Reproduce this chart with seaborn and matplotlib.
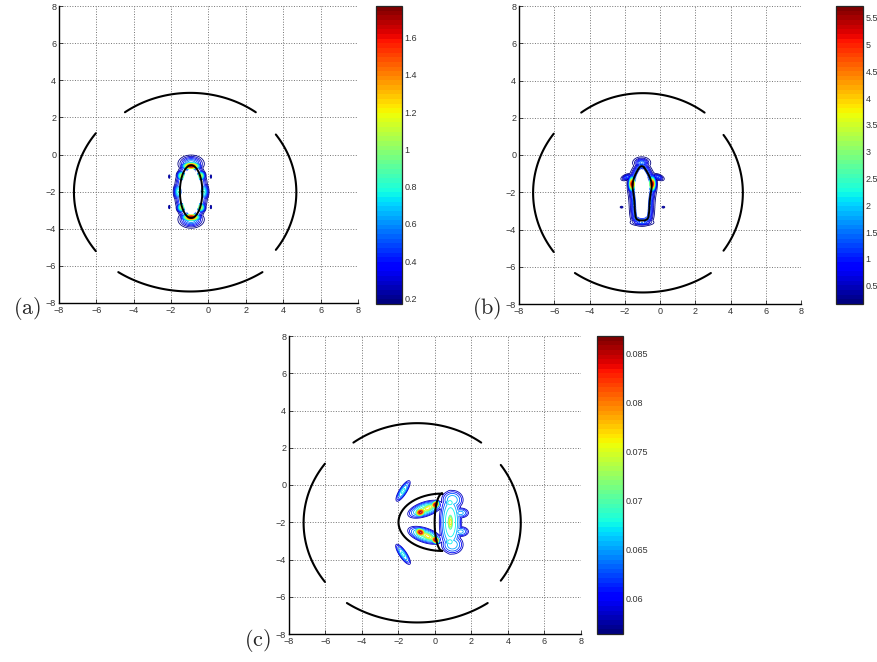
import matplotlib
matplotlib.use("Agg")
import matplotlib.pyplot as plt
import seaborn as sns
import numpy as np
from matplotlib.path import Path
from matplotlib.ticker import FuncFormatter

sns.set_style("ticks")
plt.rcParams['font.family'] = ['Liberation Sans', 'DejaVu Sans']
plt.rcParams['mathtext.fontset'] = 'cm'

# outer arcs (same in every panel): centre, radii, start/end angle (deg)
arc_cx = [-0.97, -1.20, -0.97, -1.20]
arc_cy = [-2.03, -2.03, -2.03, -2.03]
arc_rx = [5.90, 6.00, 6.50, 5.90]
arc_ry = [5.35, 5.35, 5.35, 5.35]
arc_t0 = [53.6, 143.6, 233.6, -35.5]
arc_t1 = [126.4, 216.4, 306.4, 35.5]

# panel (a): inner ellipse, halo around it and field blobs
a_obj_cx, a_obj_cy, a_obj_rx, a_obj_ry = -0.93, -2.0, 0.60, 1.42
a_ring_amp, a_ring_w = 0.50, 0.20
a_blob_x = [-0.93, -0.93, -0.93, -0.93, -1.62, -0.24, -1.44, -0.42, -1.44, -0.42, -2.10, 0.13, -2.10, 0.13]
a_blob_y = [-0.62, -3.38, -0.50, -3.50, -2.0, -2.0, -1.15, -1.15, -2.85, -2.85, -1.19, -1.19, -2.83, -2.83]
a_blob_amp = [1.75, 1.75, 0.70, 0.70, 0.85, 0.85, 1.15, 1.15, 1.15, 1.15, 0.30, 0.30, 0.30, 0.30]
a_blob_sx = [0.30, 0.30, 0.42, 0.42, 0.15, 0.15, 0.15, 0.15, 0.15, 0.15, 0.035, 0.035, 0.035, 0.035]
a_blob_sy = [0.13, 0.13, 0.28, 0.28, 0.30, 0.30, 0.17, 0.17, 0.17, 0.17, 0.09, 0.09, 0.09, 0.09]
a_blob_rot = [0, 0, 0, 0, 0, 0, 0, 0, 0, 0, 0, 0, 0, 0]
a_clim = (0.17, 1.77)
a_ticks = [0.2, 0.4, 0.6, 0.8, 1.0, 1.2, 1.4, 1.6]

# panel (b): shield-shaped body outline, halo and field blobs
b_obj_x = [-1.04, -0.72, -0.42, -0.58, -0.62, -0.72, -1.32, -1.42, -1.46, -1.60, -1.34]
b_obj_y = [-0.50, -0.90, -1.55, -2.30, -3.20, -3.52, -3.52, -3.20, -2.30, -1.55, -0.90]
b_ring_amp, b_ring_w = 1.4, 0.15
b_blob_x = [-1.58, -0.44, -1.04, -1.89, -0.09, -1.48, -0.56, -1.02, -2.18, 0.19]
b_blob_y = [-1.55, -1.55, -0.42, -1.19, -1.19, -2.50, -2.50, -3.62, -2.80, -2.80]
b_blob_amp = [5.6, 5.6, 1.6, 1.3, 1.3, 1.6, 1.6, 1.5, 0.6, 0.6]
b_blob_sx = [0.11, 0.11, 0.24, 0.17, 0.17, 0.10, 0.10, 0.32, 0.05, 0.05]
b_blob_sy = [0.24, 0.24, 0.15, 0.08, 0.08, 0.45, 0.45, 0.09, 0.03, 0.03]
b_blob_rot = [0, 0, 0, 20, -20, 0, 0, 0, 0, 0]
b_clim = (0.16, 5.72)
b_ticks = [0.5, 1, 1.5, 2, 2.5, 3, 3.5, 4, 4.5, 5, 5.5]

# panel (c): crescent body (outer / inner half ellipses) and field blobs
c_obj_cx, c_obj_cy = 0.40, -2.0
c_outer_rx, c_outer_ry = 2.40, 1.54
c_inner_rx, c_inner_ry = 0.42, 1.54
c_blob_x = [-1.75, -1.75, -0.55, -0.80, 0.02, -0.40, -0.55, -0.80, 0.02, -0.40,
            0.85, 0.84, 0.82, 0.82, 1.40, 1.40, 0.95, 0.95]
c_blob_y = [-0.32, -3.72, -1.30, -1.46, -1.05, -1.25, -2.70, -2.54, -2.95, -2.75,
            -2.00, -2.00, -0.95, -3.05, -1.50, -2.50, -0.80, -3.20]
c_blob_amp = [0.068, 0.068, 0.071, 0.087, 0.087, 0.078, 0.071, 0.087, 0.087, 0.078,
              0.070, 0.078, 0.069, 0.069, 0.066, 0.066, 0.067, 0.067]
c_blob_sx = [1.15, 1.15, 1.55, 0.36, 0.30, 0.75, 1.55, 0.36, 0.30, 0.75,
             1.00, 0.24, 0.55, 0.55, 0.85, 0.85, 1.10, 1.10]
c_blob_sy = [0.35, 0.35, 0.62, 0.25, 0.22, 0.32, 0.62, 0.25, 0.22, 0.32,
             2.80, 0.80, 0.50, 0.50, 0.52, 0.52, 0.95, 0.95]
c_blob_rot = [57, -55, 18, 20, 35, 25, -18, -20, -35, -25,
              0, 0, 0, 0, 0, 0, 0, 0]
c_clim = (0.0564, 0.0868)
c_ticks = [0.06, 0.065, 0.07, 0.075, 0.08, 0.085]

cmap = matplotlib.colormaps['jet'].resampled(64)
gx, gy = np.meshgrid(np.linspace(-4, 3, 421), np.linspace(-5.5, 1.5, 421))


def field(bx, by, amp, sx, sy, rot):
    z = np.zeros_like(gx)
    for cx, cy, a, s1, s2, r in zip(bx, by, amp, sx, sy, rot):
        t = np.deg2rad(r)
        dx, dy = gx - cx, gy - cy
        u = dx * np.cos(t) + dy * np.sin(t)
        v = -dx * np.sin(t) + dy * np.cos(t)
        z = np.maximum(z, a * np.exp(-0.5 * ((u / s1) ** 2 + (v / s2) ** 2)))
    return z


def halo(px, py, amp, width):
    d = np.full(gx.shape, np.inf)
    for x0, y0 in zip(px, py):
        d = np.minimum(d, np.hypot(gx - x0, gy - y0))
    return amp * np.exp(-0.5 * (d / width) ** 2)


def smooth_closed(xs, ys, n=3):
    p = np.column_stack([xs, ys])
    for _ in range(n):
        q = np.roll(p, -1, axis=0)
        p = np.stack([0.75 * p + 0.25 * q, 0.25 * p + 0.75 * q], axis=1).reshape(-1, 2)
    p = np.vstack([p, p[:1]])
    return p[:, 0], p[:, 1]


def style_axes(ax):
    ax.set_xlim(-8, 8)
    ax.set_ylim(-8, 8)
    ax.set_xticks(np.arange(-8, 9, 2))
    ax.set_yticks(np.arange(-8, 9, 2))
    ax.grid(True, linestyle=':', color='0.45', linewidth=0.7)
    ax.set_axisbelow(True)
    for s in ['top', 'right']:
        ax.spines[s].set_visible(False)
    for s in ['left', 'bottom']:
        ax.spines[s].set_linewidth(1.0)
        ax.spines[s].set_color('black')
    ax.tick_params(direction='in', length=3, width=0.6, labelsize=6.5,
                   labelcolor='#333333', pad=2)
    ax.set_xlabel('')
    ax.set_ylabel('')


def draw_arcs(ax):
    for cx, cy, rx, ry, t0, t1 in zip(arc_cx, arc_cy, arc_rx, arc_ry, arc_t0, arc_t1):
        t = np.deg2rad(np.linspace(t0, t1, 120))
        sns.lineplot(x=cx + rx * np.cos(t), y=cy + ry * np.sin(t), sort=False,
                     estimator=None, color='black', linewidth=1.5, ax=ax)


def draw_colorbar(fig, rect, clim, ticks):
    cax = fig.add_axes(rect)
    sm = plt.cm.ScalarMappable(norm=plt.Normalize(*clim), cmap=cmap)
    cb = fig.colorbar(sm, cax=cax)
    cb.set_ticks(ticks)
    cb.ax.yaxis.set_major_formatter(FuncFormatter(lambda v, p: '%g' % v))
    cb.outline.set_linewidth(0.9)
    cax.tick_params(direction='in', length=2.5, width=0.6, labelsize=6.5,
                    labelcolor='#333333', left=True, right=True, pad=2)
    return cb


fig = plt.figure(figsize=(8.78, 6.62), dpi=100)

# ---- panel (a)
ax_a = fig.add_axes([59 / 878, 1 - 303 / 662, 299 / 878, 297 / 662])
t = np.linspace(0, 2 * np.pi, 200)
ea_x = a_obj_cx + a_obj_rx * np.cos(t)
ea_y = a_obj_cy + a_obj_ry * np.sin(t)
za = np.maximum(field(a_blob_x, a_blob_y, a_blob_amp, a_blob_sx, a_blob_sy, a_blob_rot),
                halo(ea_x, ea_y, a_ring_amp, a_ring_w))
inside = ((gx - a_obj_cx) / (a_obj_rx * 0.85)) ** 2 + ((gy - a_obj_cy) / (a_obj_ry * 0.88)) ** 2 < 1
za = np.ma.masked_where(inside, za)
ax_a.contour(gx, gy, za, levels=np.linspace(*a_clim, 20), cmap=cmap,
             vmin=a_clim[0], vmax=a_clim[1], linewidths=0.6)
sns.lineplot(x=ea_x, y=ea_y, sort=False, estimator=None, color='black', linewidth=1.4, ax=ax_a)
draw_arcs(ax_a)
style_axes(ax_a)
draw_colorbar(fig, [376 / 878, 1 - 304 / 662, 26 / 878, 298 / 662], a_clim, a_ticks)

# ---- panel (b)
ax_b = fig.add_axes([519 / 878, 1 - 304 / 662, 282 / 878, 298 / 662])
sxb, syb = smooth_closed(b_obj_x, b_obj_y)
zb = np.maximum(field(b_blob_x, b_blob_y, b_blob_amp, b_blob_sx, b_blob_sy, b_blob_rot),
                halo(sxb, syb, b_ring_amp, b_ring_w))
cxm, cym = np.mean(b_obj_x), np.mean(b_obj_y)
shrunk = np.column_stack([cxm + 0.8 * (sxb - cxm), cym + 0.9 * (syb - cym)])
inside_b = Path(shrunk).contains_points(np.column_stack([gx.ravel(), gy.ravel()])).reshape(gx.shape)
zb = np.ma.masked_where(inside_b, zb)
ax_b.contour(gx, gy, zb, levels=np.linspace(*b_clim, 26), cmap=cmap,
             vmin=b_clim[0], vmax=b_clim[1], linewidths=0.6)
sns.lineplot(x=sxb, y=syb, sort=False, estimator=None, color='black', linewidth=1.4, ax=ax_b)
draw_arcs(ax_b)
style_axes(ax_b)
draw_colorbar(fig, [836 / 878, 1 - 304 / 662, 27 / 878, 298 / 662], b_clim, b_ticks)

# ---- panel (c)
ax_c = fig.add_axes([289 / 878, 1 - 634 / 662, 292 / 878, 298 / 662])
zc = field(c_blob_x, c_blob_y, c_blob_amp, c_blob_sx, c_blob_sy, c_blob_rot)
ax_c.contour(gx, gy, zc, levels=np.linspace(0.058, 0.086, 13), cmap=cmap,
             vmin=c_clim[0], vmax=c_clim[1], linewidths=0.6)
th = np.linspace(np.pi / 2, 3 * np.pi / 2, 150)
ox = c_obj_cx + c_outer_rx * np.cos(th)
oy = c_obj_cy + c_outer_ry * np.sin(th)
ix = c_obj_cx + c_inner_rx * np.cos(th[::-1])
iy = c_obj_cy + c_inner_ry * np.sin(th[::-1])
sns.lineplot(x=np.concatenate([ox, ix, ox[:1]]), y=np.concatenate([oy, iy, oy[:1]]),
             sort=False, estimator=None, color='black', linewidth=1.5, ax=ax_c)
draw_arcs(ax_c)
style_axes(ax_c)
draw_colorbar(fig, [597 / 878, 1 - 634 / 662, 26 / 878, 298 / 662], c_clim, c_ticks)

# panel letters
fig.text(27 / 878, 1 - 309 / 662, r'$\mathrm{(a)}$', fontsize=16, ha='center', va='center')
fig.text(487 / 878, 1 - 309 / 662, r'$\mathrm{(b)}$', fontsize=16, ha='center', va='center')
fig.text(257 / 878, 1 - 641 / 662, r'$\mathrm{(c)}$', fontsize=16, ha='center', va='center')

fig.savefig('out.png', dpi=100)
